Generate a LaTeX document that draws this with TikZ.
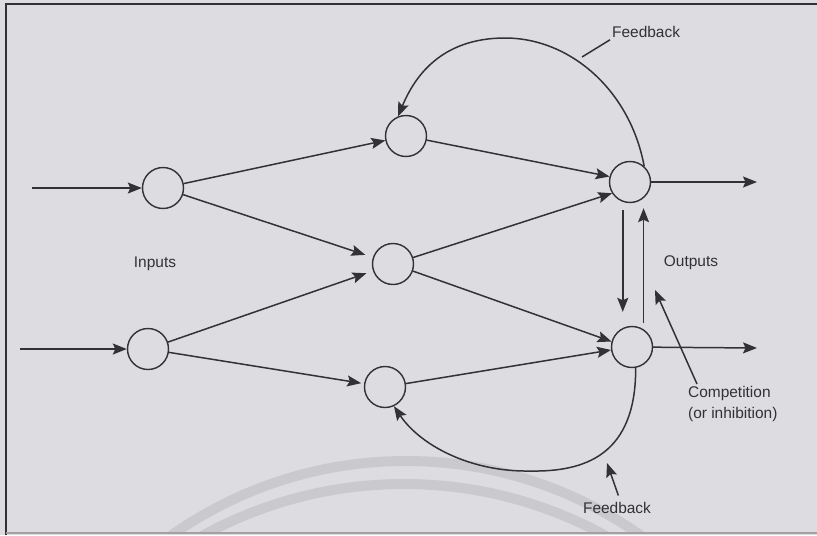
\documentclass[tikz,border=0pt]{standalone}
\usepackage{fontspec}
\setmainfont{Liberation Sans}
\usetikzlibrary{arrows.meta}
\definecolor{paper}{RGB}{221,221,225}
\definecolor{ink}{RGB}{50,50,53}
\definecolor{ringgray}{RGB}{201,201,206}

\begin{document}
\begin{tikzpicture}[x=0.02cm,y=-0.02cm,
	>={Stealth[length=2.8mm,width=2.2mm,inset=0.5mm]},
	unit/.style={draw=ink,circle,line width=0.8pt,minimum size=0.82cm,inner sep=0pt},
	wire/.style={draw=ink,line width=0.85pt},
	lbl/.style={text=ink,font=\fontsize{8.8}{12}\selectfont,inner sep=1pt}]
	\fill[paper] (0,0) rectangle (817,535);
	\useasboundingbox (0,0) rectangle (817,535);
	\begin{scope}
		\clip (6,4) rectangle (817,533);
		\draw[ringgray,line width=0.2cm] (406,868) circle (407);
		\draw[ringgray,line width=0.2cm] (404,902) circle (418);
	\end{scope}
	\draw[ink,line width=1.3pt] (817,4) -- (6,4) -- (6,535);
	\draw[ringgray!80!black,line width=0.6pt] (6,533) -- (817,533);
	\node[unit] (I1) at (163,188) {};
	\node[unit] (I2) at (148,349) {};
	\node[unit] (H1) at (406,136) {};
	\node[unit] (H2) at (393,264) {};
	\node[unit] (H3) at (385,387) {};
	\node[unit] (O1) at (630,182) {};
	\node[unit] (O2) at (632,347) {};
	\coordinate (in1) at (32,188);
	\coordinate (in2) at (20,349);
	\coordinate (out1) at (757,182);
	\coordinate (out2) at (757,348);
	\draw[wire,->] (in1) -- (I1);
	\draw[wire,->] (in2) -- (I2);
	\draw[wire,->] (I1) -- (H1);
	\draw[wire,->,shorten >=0.16cm] (I1) -- (H2);
	\draw[wire,->,shorten >=0.14cm] (I2) -- (H2);
	\draw[wire,->,shorten >=0.06cm] (I2) -- (H3);
	\draw[wire,->] (H1) -- (O1.165);
	\draw[wire,->] (H2) -- (O1.212);
	\draw[wire,->] (H2) -- (O2.165);
	\draw[wire,->] (H3) -- (O2.188);
	\draw[wire,->] (O1) -- (out1);
	\draw[wire,->] (O2) -- (out2);
	% lateral competition between the outputs
	\draw[wire,->,shorten <=0.16cm,shorten >=0.28cm] (O1.-110) -- (O1.-110 |- O2.north);
	\draw[wire,->,shorten <=0.12cm,shorten >=0.1cm] (O2.57) -- (O2.57 |- O1.south);
	% feedback loops
	\draw[wire,->] (O1.48) .. controls (630,90) and (570,38) .. (505,38) .. controls (440,38) and (414,78) .. (H1.112);
	\draw[wire,->] (O2.-80) .. controls (636,455) and (585,472) .. (530,471) .. controls (470,472) and (420,445) .. (H3.-65);
	\node[lbl] (inputs) at (155,264) {Inputs};
	\node[lbl] (outputs) at (691,263) {Outputs};
	\node[lbl,anchor=west] (fbtop) at (610,32) {Feedback};
	\node[lbl] (fbbot) at (617,508) {Feedback};
	\node[lbl,anchor=north west,align=left] (comp) at (686,384) {Competition\\(or inhibition)};
	\coordinate (fbfoot) at (582,57);
	\coordinate (comptip) at (655,290);
	\coordinate (fbtip) at (607,463);
	\draw[wire] (fbtop.south west) -- (fbfoot);
	\draw[wire,->] ([xshift=0.22cm]comp.north west) -- (comptip);
	\draw[wire,->,shorten <=0.1cm] ([xshift=0.06cm]fbbot.north) -- (fbtip);
\end{tikzpicture}
\end{document}
